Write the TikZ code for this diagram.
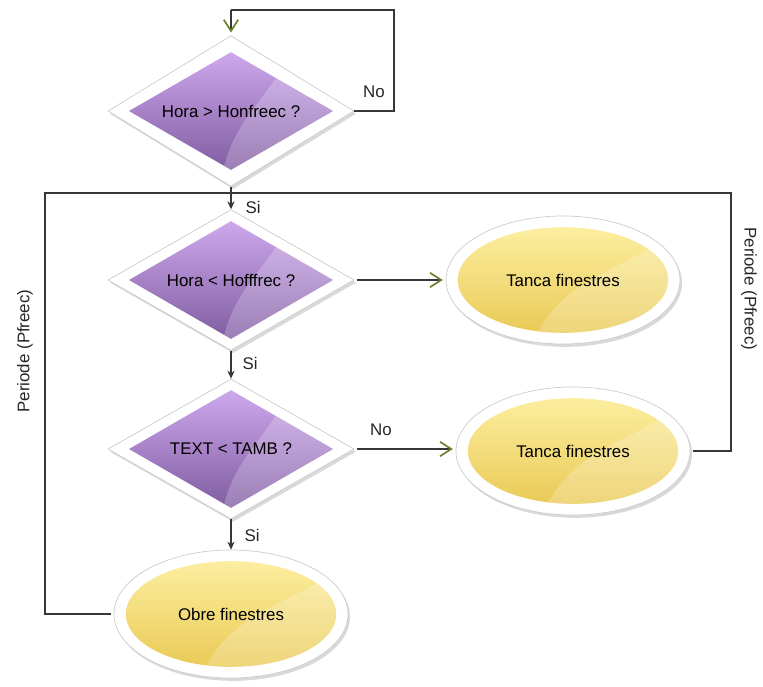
\documentclass[tikz,border=0pt]{standalone}
\usepackage{fontspec}
\setmainfont{Liberation Sans}
\usetikzlibrary{shapes.geometric, arrows.meta, shadows, calc}

\definecolor{purpletop}{RGB}{206,168,236}
\definecolor{purplebot}{RGB}{128,92,160}
\definecolor{yellowtop}{RGB}{252,238,160}
\definecolor{yellowbot}{RGB}{234,202,86}
\definecolor{tipgreen}{RGB}{105,128,45}
\definecolor{linegray}{RGB}{55,55,55}

\tikzset{
    decision/.style={diamond, draw=gray!40, fill=white, line width=0.5pt,
        minimum width=6.15cm, minimum height=3.5cm, inner sep=0pt,
        drop shadow={opacity=0.3, shadow xshift=0.5mm, shadow yshift=-0.7mm},
        path picture={
            \coordinate (pc) at (path picture bounding box.center);
            \path[top color=purpletop, bottom color=purplebot]
                ($(pc)+(-2.55cm,0)$) -- ($(pc)+(0,1.47cm)$) -- ($(pc)+(2.55cm,0)$) -- ($(pc)+(0,-1.47cm)$) -- cycle;
            \begin{scope}
                \clip ($(pc)+(-2.55cm,0)$) -- ($(pc)+(0,1.47cm)$) -- ($(pc)+(2.55cm,0)$) -- ($(pc)+(0,-1.47cm)$) -- cycle;
                \fill[white, opacity=0.22] ($(pc)+(1.12cm,0.82cm)$) to[out=235, in=75] ($(pc)+(-0.18cm,-1.4cm)$)
                    -- ($(pc)+(-0.18cm,-3cm)$) -- ($(pc)+(5cm,-3cm)$) -- ($(pc)+(5cm,0.82cm)$) -- cycle;
            \end{scope}
        }},
    action/.style={ellipse, draw=gray!40, fill=white, line width=0.5pt,
        minimum width=5.85cm, minimum height=3.2cm, inner sep=0pt,
        drop shadow={opacity=0.3, shadow xshift=0.5mm, shadow yshift=-0.7mm},
        path picture={
            \coordinate (pc) at (path picture bounding box.center);
            \path[top color=yellowtop, bottom color=yellowbot]
                (pc) ellipse [x radius=2.63cm, y radius=1.32cm];
            \begin{scope}
                \clip (pc) ellipse [x radius=2.63cm, y radius=1.32cm];
                \fill[white, opacity=0.22] ($(pc)+(2.1cm,0.75cm)$) to[out=210, in=60] ($(pc)+(-0.6cm,-1.25cm)$)
                    -- ($(pc)+(-0.6cm,-3cm)$) -- ($(pc)+(5cm,-3cm)$) -- ($(pc)+(5cm,0.75cm)$) -- cycle;
            \end{scope}
        }},
    flow/.style={draw=linegray, line width=0.8pt},
    yesarrow/.style={flow, -{Stealth[length=2mm, width=1.8mm]}},
    noarrow/.style={flow, -{Straight Barb[length=2.8mm, width=3.6mm, line width=1.2pt, color=tipgreen]}, shorten <=2pt, shorten >=2pt},
    lbl/.style={text=black!85}
}

\begin{document}
\begin{tikzpicture}[x=0.025cm, y=0.025cm, font=\fontsize{12}{14}\selectfont]

    \useasboundingbox (0,0) rectangle (763,-686);

    % ===== DECISIONS =====
    \node[decision] (hon)  at (231,-111) {Hora > Honfreec ?};
    \node[decision] (hoff) at (231,-280) {Hora < Hofffrec ?};
    \node[decision] (temp) at (231,-449) {TEXT < TAMB ?};

    % ===== ACTIONS =====
    \node[action] (tanca1) at (563,-280) {Tanca finestres};
    \node[action] (tanca2) at (573,-451) {Tanca finestres};
    \node[action] (obre)   at (231,-614) {Obre finestres};

    % 1. Waiting loop on top
    \coordinate (waitr) at (394,-10);
    \coordinate (waitl) at (231,-10);
    \draw[flow] (hon.east) -| (waitr) -- (waitl);
    \draw[noarrow, shorten <=0pt] (waitl) -- (hon.north);
    \node[lbl] (nowait) at (374,-92) {No};

    % 2. Main chain
    \draw[yesarrow] (hon.south) -- (hoff.north);
    \node[lbl] (si1) at (253,-207) {Si};
    \draw[yesarrow] (hoff.south) -- (temp.north);
    \node[lbl] (si2) at (250,-363) {Si};
    \draw[yesarrow] (temp.south) -- (obre.north);
    \node[lbl] (si3) at (252,-535) {Si};

    \draw[noarrow] (hoff.east) -- (hoff.east -| tanca1.west);
    \draw[noarrow] (temp.east) -- (temp.east -| tanca2.west);
    \node[lbl] (notemp) at (381,-430) {No};

    % 3. Period loops back to the second test
    \coordinate (join)   at (231,-193);
    \coordinate (loopl)  at (45,-193);
    \coordinate (loopr)  at (731,-193);
    \draw[flow, shorten <=2pt] (obre.west) -| (loopl) -- (join);
    \draw[flow, shorten <=2pt] (tanca2.east) -| (loopr) -- (join);
    \node[lbl, rotate=90]  (perl) at (25,-351)  {Periode (Pfreec)};
    \node[lbl, rotate=-90] (perr) at (749,-289) {Periode (Pfreec)};

\end{tikzpicture}
\end{document}
